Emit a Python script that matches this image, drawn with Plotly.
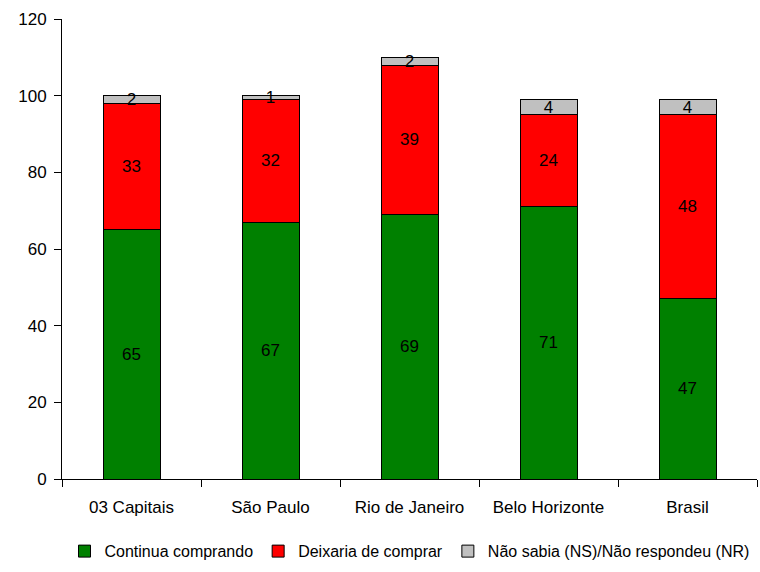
import plotly.graph_objects as go

categories = ["03 Capitais", "São Paulo", "Rio de Janeiro", "Belo Horizonte", "Brasil"]
continua = [65, 67, 69, 71, 47]
deixaria = [33, 32, 39, 24, 48]
ns_nr = [2, 1, 2, 4, 4]

series = [
    ("Continua comprando", continua, "#008000"),
    ("Deixaria de comprar", deixaria, "#FF0000"),
    ("Não sabia (NS)/Não respondeu (NR)", ns_nr, "#C0C0C0"),
]

FONT = "Liberation Sans, Arial, sans-serif"
FS = 17

fig = go.Figure()
for name, vals, color in series:
    fig.add_trace(go.Bar(
        x=categories,
        y=vals,
        name=name,
        marker=dict(color=color, line=dict(color="#000000", width=1)),
        text=[str(v) for v in vals],
        textposition="inside",
        insidetextanchor="middle",
        textangle=0,
        textfont=dict(color="#000000", size=FS, family=FONT),
        constraintext="none",
        cliponaxis=False,
    ))

fig.update_layout(
    barmode="stack",
    bargap=0.59,
    width=760,
    height=572,
    margin=dict(l=62, r=3, t=19, b=93),
    paper_bgcolor="white",
    plot_bgcolor="white",
    font=dict(family=FONT, size=FS, color="#000000"),
    uniformtext=dict(mode="show", minsize=FS),
    showlegend=True,
    legend=dict(
        orientation="h",
        traceorder="normal",
        x=0.5, xanchor="center",
        y=-0.157, yanchor="middle",
        font=dict(size=16, family=FONT),
        itemwidth=30,
        tracegroupgap=0,
    ),
)

fig.update_xaxes(
    showline=True, linecolor="#000000", linewidth=1,
    ticks="outside", ticklen=7, tickcolor="#000000",
    tickson="boundaries",
    ticklabelstandoff=13,
    showgrid=False,
    tickfont=dict(size=FS, family=FONT),
)
fig.update_yaxes(
    range=[0, 120],
    dtick=20,
    showline=True, linecolor="#000000", linewidth=1,
    ticks="outside", ticklen=7, tickcolor="#000000",
    ticklabelstandoff=4,
    showgrid=False, zeroline=False,
    tickfont=dict(size=FS, family=FONT),
)

fig.write_html("out.html")
